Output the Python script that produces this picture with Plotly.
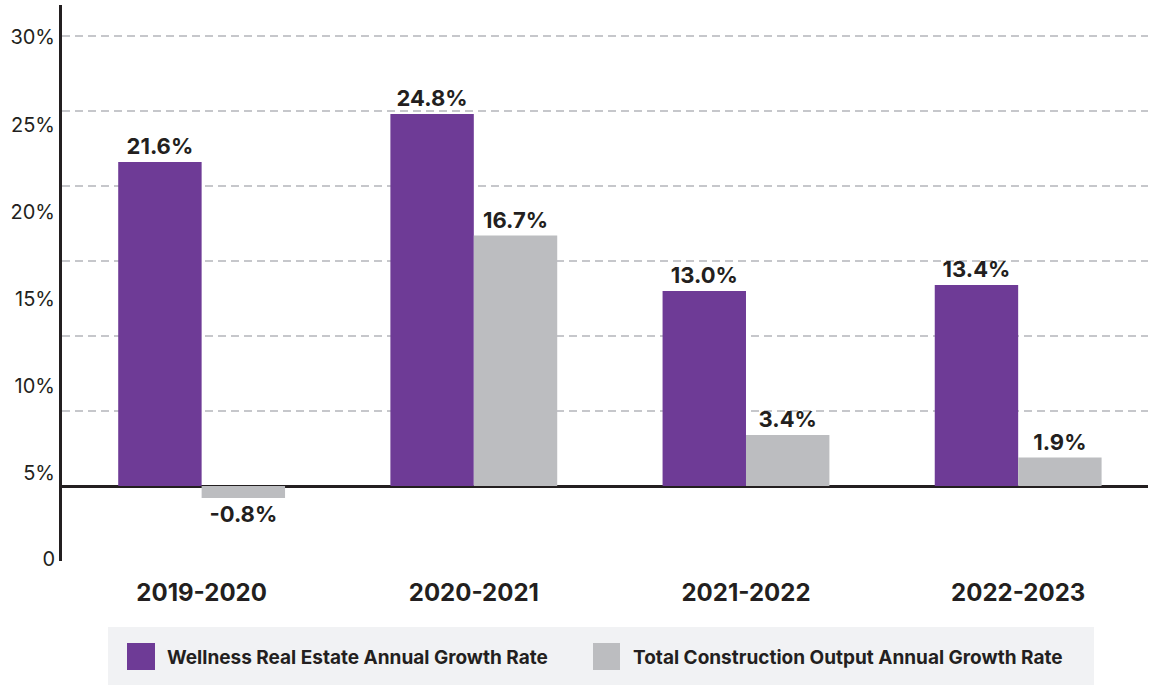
import plotly.graph_objects as go

categories = ["2019-2020", "2020-2021", "2021-2022", "2022-2023"]
wellness = [21.6, 24.8, 13.0, 13.4]
construction = [-0.8, 16.7, 3.4, 1.9]
series_names = ["Wellness Real Estate Annual Growth Rate",
                "Total Construction Output Annual Growth Rate"]
ytick_vals = [29.91, 24.07, 18.28, 12.49, 6.7, 0.89, -4.89]
ytick_text = ["30%", "25%", "20%", "15%", "10%", "5%", "0"]

PURPLE = "#6e3b96"
GREY = "#bcbdc0"
INK = "#231f20"
FONT = "Inter"

W, H = 1151, 685
ML, MR, MT, MB = 62, 3, 5, 124
PW = W - ML - MR
PH = H - MT - MB


def px(x):
    return (x - ML) / PW


def py(y):
    return (H - MB - y) / PH


fig = go.Figure()
for vals, name, col in [(wellness, series_names[0], PURPLE),
                        (construction, series_names[1], GREY)]:
    fig.add_trace(go.Bar(
        x=categories, y=vals, name=name, marker=dict(color=col, line=dict(width=0)),
        texttemplate="%{y:.1f}%", textposition="outside",
        outsidetextfont=dict(family=FONT, size=22, color=INK, weight=700),
        constraintext="none", cliponaxis=False, showlegend=False,
        hoverinfo="skip",
    ))

fig.update_layout(
    width=W, height=H,
    margin=dict(l=ML, r=MR, t=MT, b=MB),
    paper_bgcolor="white", plot_bgcolor="white",
    barmode="group", bargap=0.387, bargroupgap=0,
    font=dict(family=FONT, color=INK),
    xaxis=dict(
        range=[-0.513, 3.477], showgrid=False, showline=False, zeroline=False,
        ticks="", ticklabelstandoff=15,
        tickfont=dict(family=FONT, size=24, color=INK, weight=700),
    ),
    yaxis=dict(
        range=[-5, 32.07], showgrid=False,
        tickmode="array", tickvals=ytick_vals, ticktext=ytick_text,
        tickfont=dict(family=FONT, size=20, color=INK),
        ticks="", ticklabelstandoff=0,
        showline=True, linecolor=INK, linewidth=3,
        zeroline=True, zerolinecolor=INK, zerolinewidth=3,
        minor=dict(tickmode="linear", tick0=0, dtick=5, showgrid=True,
                   gridcolor="#c6c7cb", gridwidth=1.5, griddash="8px,5px", ticks=""),
    ),
)

# manual legend (large swatches as in the reference)
fig.add_shape(type="rect", xref="paper", yref="paper",
              x0=px(108), x1=px(1094), y0=py(627), y1=py(686),
              fillcolor="#f1f2f4", line=dict(width=0), layer="below")
for (x0, x1, tx), name, col in [((127, 155, 165), series_names[0], PURPLE),
                                ((593, 620, 631), series_names[1], GREY)]:
    fig.add_shape(type="rect", xref="paper", yref="paper",
                  x0=px(x0), x1=px(x1), y0=py(643), y1=py(670),
                  fillcolor=col, line=dict(width=0))
    fig.add_annotation(xref="paper", yref="paper", x=px(tx), y=py(657),
                       text=name, showarrow=False, xanchor="left", yanchor="middle",
                       font=dict(family=FONT, size=19, color=INK, weight=700))

fig.write_html("out.html")
